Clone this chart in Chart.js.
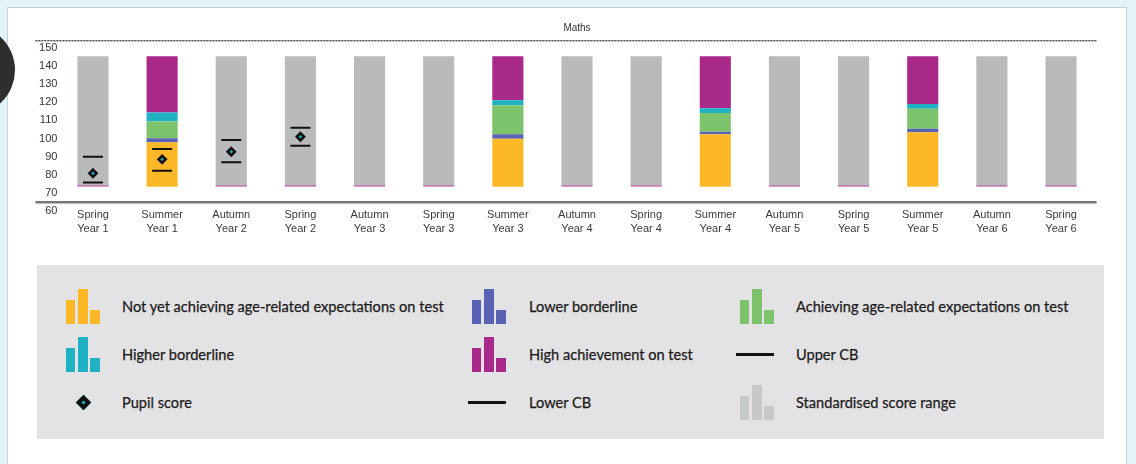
<!DOCTYPE html>
<html>
<head>
<meta charset="utf-8">
<title>Maths</title>
<script src="https://cdn.jsdelivr.net/npm/chart.js@4.4.1/dist/chart.umd.min.js"></script>
<style>
  html, body { margin: 0; padding: 0; }
  body {
    width: 1136px; height: 464px; overflow: hidden; position: relative;
    background: #e4f2f9;
    font-family: "Liberation Sans", Arial, sans-serif;
  }
  .card {
    position: absolute; left: 7px; top: 7px; width: 1118px; height: 480px;
    background: #fff; border: 1px solid #c6d0d6;
  }
  .badge {
    position: absolute; left: -75px; top: 25px; width: 90px; height: 90px;
    border-radius: 50%; background: #2e2e2e; z-index: 3;
  }
  .chart-box { position: absolute; left: 0; top: 0; width: 1136px; height: 250px; z-index: 2; }
  .legend {
    position: absolute; left: 37px; top: 265px; width: 1067px; height: 174px;
    background: #e3e3e5; z-index: 2;
    font-family: Lato, "Open Sans", sans-serif; font-size: 14.6px; color: #1d1a1b;
    -webkit-text-stroke: 0.25px #1d1a1b;
  }
  .icon { position: absolute; width: 34px; height: 36px; display: flex; align-items: flex-end; justify-content: space-between; }
  .icon span { display: block; }
  .icon span:nth-child(1) { width: 9px; height: 24px; }
  .icon span:nth-child(2) { width: 10px; height: 35px; }
  .icon span:nth-child(3) { width: 10px; height: 14px; }
  .icon.line, .icon.diamond { align-items: center; justify-content: center; }
  .icon.line i { display: block; width: 38px; height: 3px; background: #111; margin-left: -4px; }
  .icon.diamond i {
    display: block; width: 3px; height: 3px; background: #1fb0c0;
    border: 4px solid #111; transform: rotate(45deg);
  }
  .text { position: absolute; white-space: nowrap; }
</style>
</head>
<body>
<div class="card"></div>
<div class="badge"></div>
<div class="chart-box"><canvas id="mathsChart"></canvas></div>
<div class="legend" id="legend"></div>

<script>
// categories (two-line labels)
const categories = [
  ['Spring', 'Year 1'], ['Summer', 'Year 1'], ['Autumn', 'Year 2'], ['Spring', 'Year 2'],
  ['Autumn', 'Year 3'], ['Spring', 'Year 3'], ['Summer', 'Year 3'], ['Autumn', 'Year 4'],
  ['Spring', 'Year 4'], ['Summer', 'Year 4'], ['Autumn', 'Year 5'], ['Spring', 'Year 5'],
  ['Summer', 'Year 5'], ['Autumn', 'Year 6'], ['Spring', 'Year 6']
];

// y axis
const yMin = 60;
const yMax = 150;
const yStep = 10;

// floating bar segments [from, to]
const notYet       = [null, [69, 93.5], null, null, null, null, [69, 95.5], null, null, [69, 98], null, null, [69, 99], null, null];
const lowerBorder  = [null, [93.5, 95.7], null, null, null, null, [95.5, 98], null, null, [98, 99.3], null, null, [99, 101], null, null];
const achieving    = [null, [95.7, 105], null, null, null, null, [98, 114], null, null, [99.3, 109.7], null, null, [101, 112], null, null];
const higherBorder = [null, [105, 110], null, null, null, null, [114, 116.7], null, null, [109.7, 112.3], null, null, [112, 114.7], null, null];
const highAchieve  = [[69, 70.2], [110, 141], [69, 70.2], [69, 70.2], [69, 70.2], [69, 70.2], [116.7, 141], [69, 70.2], [69, 70.2], [112.3, 141], [69, 70.2], [69, 70.2], [114.7, 141], [69, 70.2], [69, 70.2]];
const scoreRange   = [[70, 141], null, [70, 141], [70, 141], [70, 141], [70, 141], null, [70, 141], [70, 141], null, [70, 141], [70, 141], null, [70, 141], [70, 141]];

// pupil score and confidence bands
const pupilScore = [76.4, 84.1, 88.3, 96.6, null, null, null, null, null, null, null, null, null, null, null];
const upperCB    = [85.6, 89.8, 94.8, 101.6, null, null, null, null, null, null, null, null, null, null, null];
const lowerCB    = [71.3, 77.8, 82.5, 91.6, null, null, null, null, null, null, null, null, null, null, null];

const colors = {
  notYet: '#fdb827',
  lowerBorder: '#5a62b4',
  achieving: '#7dc36b',
  higherBorder: '#1fb2c4',
  highAchieve: '#a9298b',
  thinHigh: '#c27db3',
  range: '#b8babb',
  rangeLegend: '#c6c8c9',
  mark: '#111111'
};

Chart.defaults.font.family = "'Liberation Sans', Arial, sans-serif";
Chart.defaults.color = '#333';

// dashed top rule and double bottom axis rule, reaching left past the tick labels
const frameLines = {
  id: 'frameLines',
  beforeDatasetsDraw(chart) {
    const { ctx, chartArea, scales: { y } } = chart;
    const left = chartArea.left - 23;
    const right = chartArea.right + 1;
    const top = Math.round(y.getPixelForValue(yMax));
    const bottom = Math.round(y.getPixelForValue(yMin));
    ctx.save();
    ctx.lineWidth = 1;
    ctx.strokeStyle = '#3f4348';
    ctx.setLineDash([2, 1]);
    ctx.beginPath(); ctx.moveTo(left, top + 0.5); ctx.lineTo(right, top + 0.5); ctx.stroke();
    ctx.setLineDash([]);
    ctx.strokeStyle = '#c4c8cc';
    ctx.beginPath(); ctx.moveTo(left, top + 1.5); ctx.lineTo(right, top + 1.5); ctx.stroke();
    ctx.strokeStyle = '#74777c';
    ctx.lineWidth = 2;
    ctx.beginPath(); ctx.moveTo(left, bottom - 1); ctx.lineTo(right, bottom - 1); ctx.stroke();
    ctx.strokeStyle = '#c3b6c0';
    ctx.lineWidth = 1;
    ctx.beginPath(); ctx.moveTo(left, bottom + 0.5); ctx.lineTo(right, bottom + 0.5); ctx.stroke();
    ctx.restore();
  }
};

const barSet = (label, data, color) => ({
  type: 'bar', label, data, backgroundColor: color, grouped: false,
  barPercentage: 0.45, categoryPercentage: 1, order: 3
});

new Chart(document.getElementById('mathsChart'), {
  type: 'bar',
  data: {
    labels: categories,
    datasets: [
      barSet('Standardised score range', scoreRange, colors.range),
      barSet('Not yet achieving age-related expectations on test', notYet, colors.notYet),
      barSet('Lower borderline', lowerBorder, colors.lowerBorder),
      barSet('Achieving age-related expectations on test', achieving, colors.achieving),
      barSet('Higher borderline', higherBorder, colors.higherBorder),
      Object.assign(barSet('High achievement on test', highAchieve, colors.highAchieve), {
        backgroundColor: c => (c.raw && c.raw[1] - c.raw[0] < 2) ? colors.thinHigh : colors.highAchieve
      }),
      {
        type: 'line', label: 'Upper CB', data: upperCB, showLine: false, order: 1,
        pointStyle: 'line', pointRadius: 10, pointBorderWidth: 2, pointBorderColor: colors.mark, borderColor: colors.mark
      },
      {
        type: 'line', label: 'Lower CB', data: lowerCB, showLine: false, order: 1,
        pointStyle: 'line', pointRadius: 10, pointBorderWidth: 2, pointBorderColor: colors.mark, borderColor: colors.mark
      },
      {
        type: 'line', label: 'Pupil score', data: pupilScore, showLine: false, order: 0,
        pointStyle: 'rectRot', pointRadius: 3.6, pointBorderWidth: 2.6,
        pointBackgroundColor: colors.higherBorder, pointBorderColor: colors.mark
      }
    ]
  },
  options: {
    responsive: true,
    maintainAspectRatio: false,
    animation: false,
    layout: { padding: { left: 34.4, right: 40.4, top: 0, bottom: 7 } },
    plugins: {
      legend: { display: false },
      tooltip: { enabled: false },
      title: {
        display: true, text: 'Maths', fullSize: false, color: '#333',
        font: { size: 10, weight: 'normal' }, padding: { top: 22, bottom: 6 }
      }
    },
    scales: {
      x: {
        grid: { display: false, drawTicks: false },
        border: { display: false },
        ticks: { font: { size: 11, lineHeight: 1.3 }, color: '#3a3a3a', padding: 5, maxRotation: 0, autoSkip: false },
        afterFit: s => { s.height = 40; }
      },
      y: {
        min: yMin, max: yMax,
        grid: { display: false, drawTicks: false },
        border: { display: false },
        ticks: { stepSize: yStep, font: { size: 11 }, color: '#333', padding: 1, labelOffset: 8 },
        afterFit: s => { s.width = 24; }
      }
    }
  },
  plugins: [frameLines]
});

// legend, three columns by three rows
const legendItems = [
  { label: 'Not yet achieving age-related expectations on test', kind: 'bars', color: colors.notYet },
  { label: 'Lower borderline', kind: 'bars', color: colors.lowerBorder },
  { label: 'Achieving age-related expectations on test', kind: 'bars', color: colors.achieving },
  { label: 'Higher borderline', kind: 'bars', color: colors.higherBorder },
  { label: 'High achievement on test', kind: 'bars', color: colors.highAchieve },
  { label: 'Upper CB', kind: 'line' },
  { label: 'Pupil score', kind: 'diamond' },
  { label: 'Lower CB', kind: 'line' },
  { label: 'Standardised score range', kind: 'bars', color: colors.rangeLegend }
];
const iconCols = [29, 435, 703];
const textCols = [85, 492, 759];
const rowMids = [41, 89, 137];

const legendEl = document.getElementById('legend');
legendItems.forEach((item, i) => {
  const col = i % 3, row = Math.floor(i / 3);
  const icon = document.createElement('div');
  icon.className = 'icon ' + item.kind;
  icon.style.left = iconCols[col] + 'px';
  icon.style.top = (rowMids[row] - 18) + 'px';
  if (item.kind === 'bars') {
    icon.innerHTML = '<span></span><span></span><span></span>';
    icon.querySelectorAll('span').forEach(s => { s.style.background = item.color; });
  } else {
    icon.innerHTML = '<i></i>';
  }
  const text = document.createElement('div');
  text.className = 'text';
  text.textContent = item.label;
  text.style.left = textCols[col] + 'px';
  text.style.top = (rowMids[row] - 8) + 'px';
  legendEl.appendChild(icon);
  legendEl.appendChild(text);
});
</script>
</body>
</html>
